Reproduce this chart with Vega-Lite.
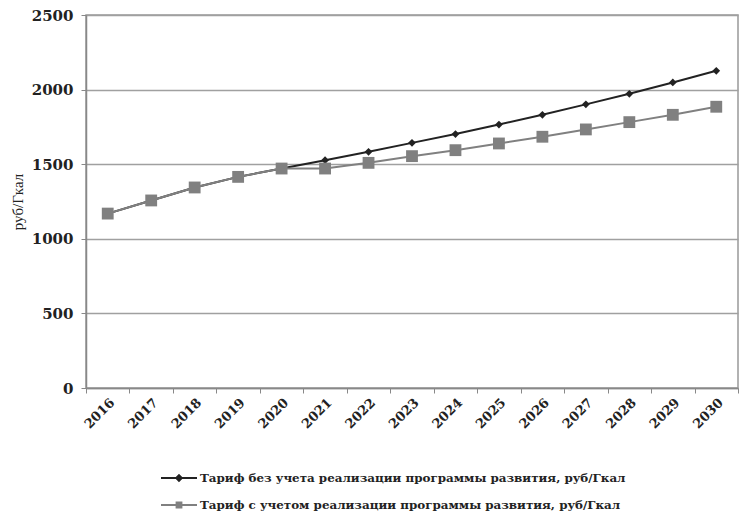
{
  "$schema": "https://vega.github.io/schema/vega-lite/v6.json",
  "autosize": "none",
  "width": 652,
  "height": 373,
  "padding": {"left": 86, "top": 15, "right": 2, "bottom": 124},
  "background": "white",
  "data": {
    "values": [
      {"year": "2016", "series": "Тариф без учета реализации программы развития, руб/Гкал", "value": 1169},
      {"year": "2017", "series": "Тариф без учета реализации программы развития, руб/Гкал", "value": 1257},
      {"year": "2018", "series": "Тариф без учета реализации программы развития, руб/Гкал", "value": 1344},
      {"year": "2019", "series": "Тариф без учета реализации программы развития, руб/Гкал", "value": 1415},
      {"year": "2020", "series": "Тариф без учета реализации программы развития, руб/Гкал", "value": 1471},
      {"year": "2021", "series": "Тариф без учета реализации программы развития, руб/Гкал", "value": 1527},
      {"year": "2022", "series": "Тариф без учета реализации программы развития, руб/Гкал", "value": 1583},
      {"year": "2023", "series": "Тариф без учета реализации программы развития, руб/Гкал", "value": 1643},
      {"year": "2024", "series": "Тариф без учета реализации программы развития, руб/Гкал", "value": 1702},
      {"year": "2025", "series": "Тариф без учета реализации программы развития, руб/Гкал", "value": 1766},
      {"year": "2026", "series": "Тариф без учета реализации программы развития, руб/Гкал", "value": 1831},
      {"year": "2027", "series": "Тариф без учета реализации программы развития, руб/Гкал", "value": 1901},
      {"year": "2028", "series": "Тариф без учета реализации программы развития, руб/Гкал", "value": 1972},
      {"year": "2029", "series": "Тариф без учета реализации программы развития, руб/Гкал", "value": 2048},
      {"year": "2030", "series": "Тариф без учета реализации программы развития, руб/Гкал", "value": 2126},
      {"year": "2016", "series": "Тариф с учетом реализации программы развития, руб/Гкал", "value": 1169},
      {"year": "2017", "series": "Тариф с учетом реализации программы развития, руб/Гкал", "value": 1257},
      {"year": "2018", "series": "Тариф с учетом реализации программы развития, руб/Гкал", "value": 1344},
      {"year": "2019", "series": "Тариф с учетом реализации программы развития, руб/Гкал", "value": 1415},
      {"year": "2020", "series": "Тариф с учетом реализации программы развития, руб/Гкал", "value": 1471},
      {"year": "2021", "series": "Тариф с учетом реализации программы развития, руб/Гкал", "value": 1471},
      {"year": "2022", "series": "Тариф с учетом реализации программы развития, руб/Гкал", "value": 1509},
      {"year": "2023", "series": "Тариф с учетом реализации программы развития, руб/Гкал", "value": 1554},
      {"year": "2024", "series": "Тариф с учетом реализации программы развития, руб/Гкал", "value": 1594},
      {"year": "2025", "series": "Тариф с учетом реализации программы развития, руб/Гкал", "value": 1639},
      {"year": "2026", "series": "Тариф с учетом реализации программы развития, руб/Гкал", "value": 1684},
      {"year": "2027", "series": "Тариф с учетом реализации программы развития, руб/Гкал", "value": 1733},
      {"year": "2028", "series": "Тариф с учетом реализации программы развития, руб/Гкал", "value": 1782},
      {"year": "2029", "series": "Тариф с учетом реализации программы развития, руб/Гкал", "value": 1831},
      {"year": "2030", "series": "Тариф с учетом реализации программы развития, руб/Гкал", "value": 1885}
    ]
  },
  "encoding": {
    "x": {
      "field": "year", "type": "ordinal", "title": null,
      "scale": {"paddingInner": 0, "paddingOuter": 0},
      "axis": {
        "labelAngle": -45, "labelFont": "DejaVu Serif", "labelFontWeight": "bold",
        "labelFontSize": 13, "labelColor": "#222", "tickBand": "extent",
        "tickColor": "#888", "tickSize": 5, "domainColor": "#888", "domainWidth": 1.5,
        "labelPadding": 3, "grid": false
      }
    },
    "y": {
      "field": "value", "type": "quantitative", "title": "руб/Гкал",
      "scale": {"domain": [0, 2500]},
      "axis": {
        "values": [0, 500, 1000, 1500, 2000, 2500], "format": "d",
        "labelFont": "DejaVu Serif", "labelFontWeight": "bold", "labelFontSize": 15,
        "labelColor": "#222", "tickColor": "#888", "tickSize": 5, "labelPadding": 8,
        "domainColor": "#888", "domainWidth": 1.5,
        "grid": true, "gridColor": "#a0a0a0", "gridWidth": 1.5,
        "titleFont": "Liberation Serif", "titleFontSize": 15, "titleFontWeight": "normal",
        "titleColor": "#222", "titlePadding": 6
      }
    },
    "color": {
      "field": "series", "type": "nominal", "title": null,
      "scale": {"range": ["#222222", "#808080"]},
      "legend": {
        "orient": "none", "legendX": 84, "legendY": 454, "direction": "vertical",
        "padding": 0, "rowPadding": 11, "symbolSize": 256, "symbolStrokeWidth": 2,
        "labelFont": "DejaVu Serif", "labelFontWeight": "bold", "labelFontSize": 11.9,
        "labelColor": "#222", "labelOffset": 12, "labelLimit": 700,
        "encode": {
          "symbols": {
            "update": {
              "shape": {"signal": "datum.value === 'Тариф без учета реализации программы развития, руб/Гкал' ? 'M-2.25,0L2.25,0M0,-0.35L0.35,0L0,0.35L-0.35,0Z' : 'M-2.25,0L2.25,0M-0.3,-0.3L0.3,-0.3L0.3,0.3L-0.3,0.3Z'"},
              "fillOpacity": {"value": 1}
            }
          }
        }
      }
    }
  },
  "layer": [
    {"mark": {"type": "line", "strokeWidth": 2}},
    {
      "mark": {"type": "point", "filled": true, "opacity": 1},
      "encoding": {
        "shape": {"field": "series", "type": "nominal", "scale": {"range": ["diamond", "square"]}, "legend": null},
        "size": {"field": "series", "type": "nominal", "scale": {"range": [60, 140]}, "legend": null}
      }
    }
  ],
  "config": {
    "view": {"stroke": "#999", "strokeWidth": 1.5},
    "font": "Liberation Serif"
  }
}
